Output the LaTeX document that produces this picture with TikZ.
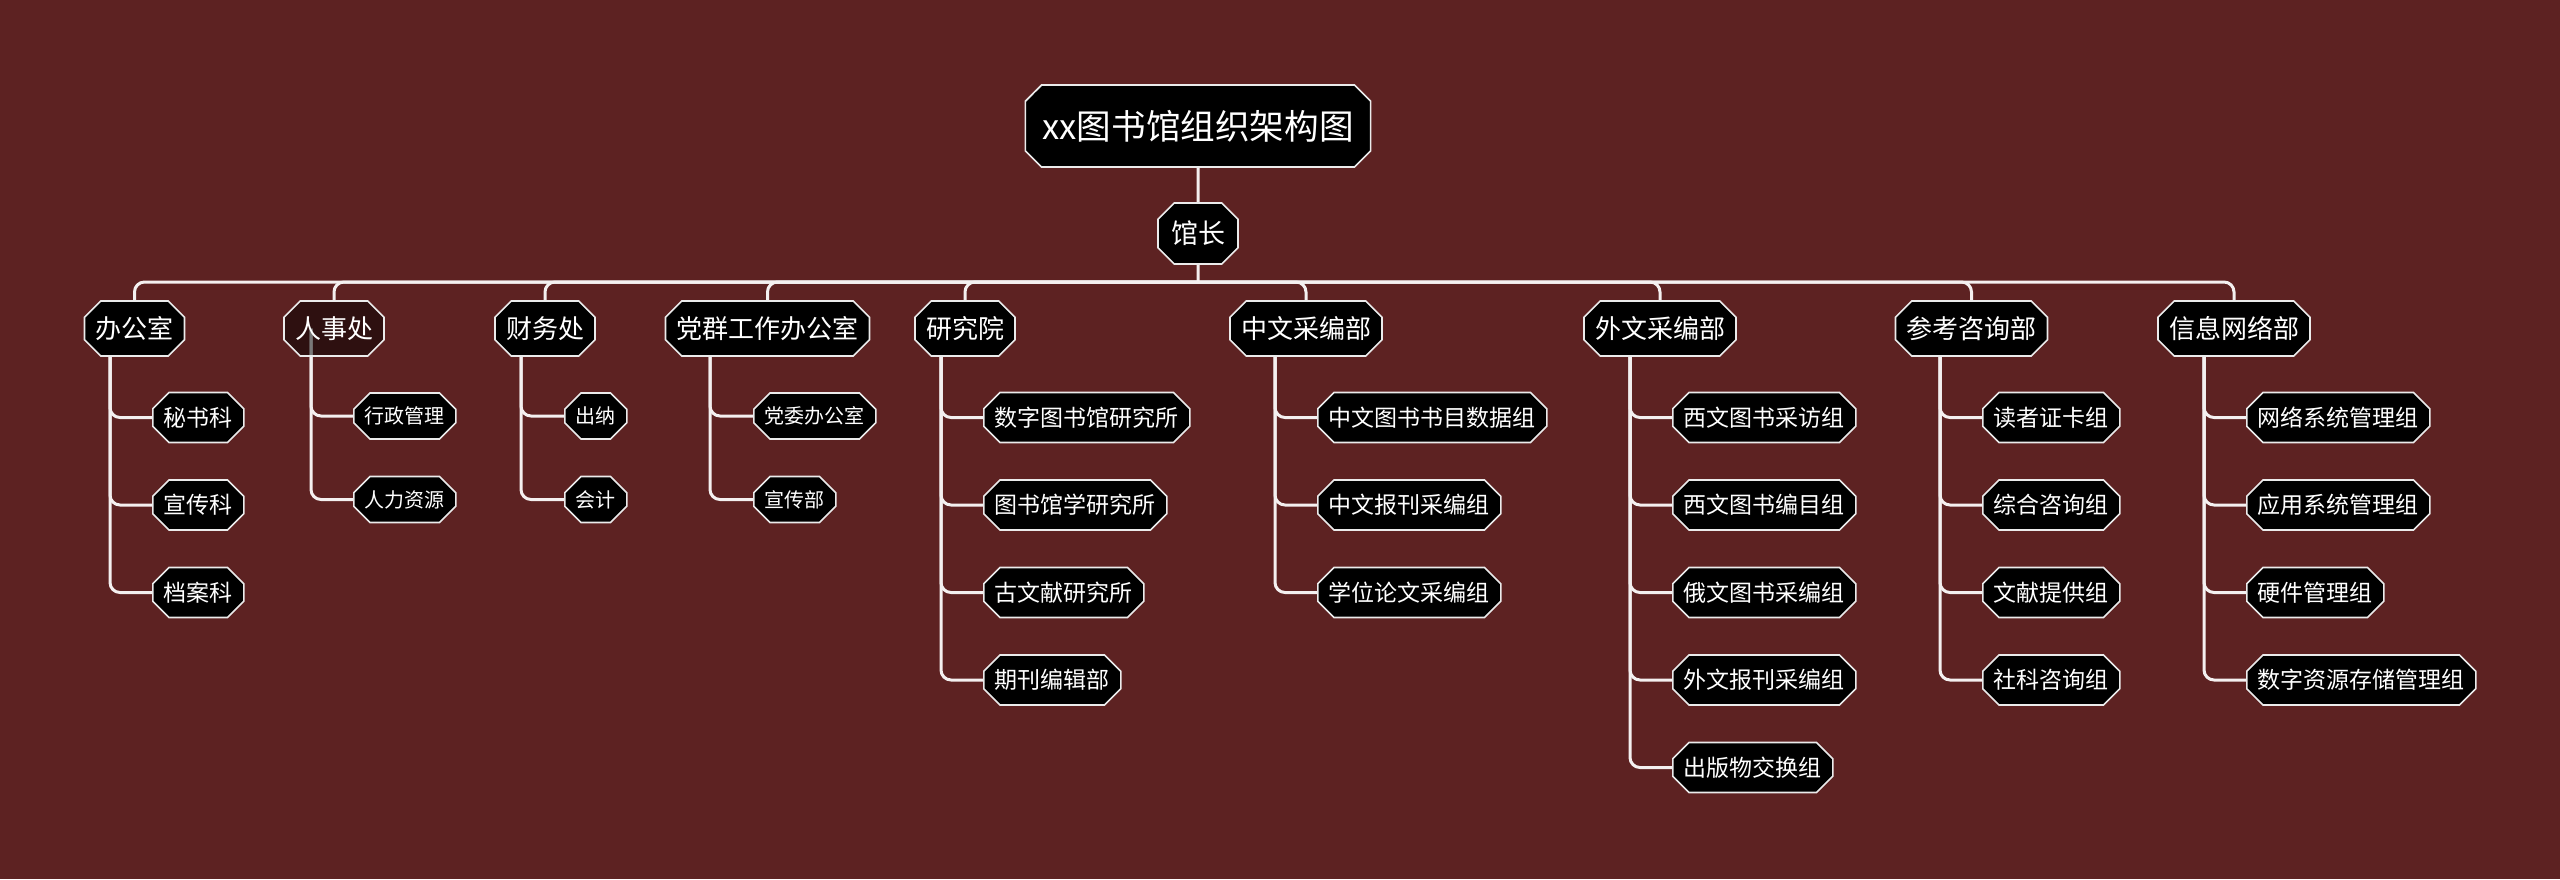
\documentclass[tikz,border=0pt]{standalone}
\usepackage{fontspec}
\setmainfont{Noto Sans CJK SC}
\usetikzlibrary{shapes.misc}
\definecolor{bgred}{HTML}{5D2222}
\definecolor{linkwhite}{HTML}{F4F0F0}
\pgfdeclarelayer{bg}
\pgfsetlayers{bg,main}
\tikzset{
  box/.style={chamfered rectangle,chamfered rectangle xsep=4.5pt,draw=white!92!black,line width=0.8pt,fill=black,text=white,inner xsep=1pt,inner ysep=0pt},
  titlebox/.style={box,font=\fontsize{17.3}{20}\selectfont,minimum height=41pt,inner xsep=4pt},
  headbox/.style={box,font=\fontsize{13.5}{16}\selectfont,minimum height=30.5pt,inner xsep=2pt},
  deptbox/.style={box,font=\fontsize{13}{15}\selectfont,minimum height=27.5pt},
  groupbox/.style={box,font=\fontsize{11.5}{14}\selectfont,minimum height=25pt,anchor=west},
  smallbox/.style={box,font=\fontsize{10}{12}\selectfont,minimum height=23pt,anchor=west},
  link/.style={linkwhite,line width=1.5pt,rounded corners=5pt},
}
\begin{document}
\begin{tikzpicture}[x=0.5pt,y=-0.5pt]
\useasboundingbox (0,0) rectangle (2560,879);
\begin{pgfonlayer}{bg}
\fill[bgred] (0,0) rectangle (2560,879);
\end{pgfonlayer}
% top of the tree
\node[titlebox] (title) at (1198,126) {xx图书馆组织架构图};
\node[headbox] (head) at (1198,233.5) {馆长};
\coordinate (bar) at (1198,282);
% departments
\node[deptbox] (office) at (134.5,328.5) {办公室};
\node[deptbox,fill opacity=0.5,text opacity=1] (hr) at (334,328.5) {人事处};
\node[deptbox] (finance) at (545,328.5) {财务处};
\node[deptbox] (party) at (767.5,328.5) {党群工作办公室};
\node[deptbox] (research) at (965,328.5) {研究院};
\node[deptbox] (cnacq) at (1306,328.5) {中文采编部};
\node[deptbox] (fgacq) at (1660,328.5) {外文采编部};
\node[deptbox] (refer) at (1971.5,328.5) {参考咨询部};
\node[deptbox] (netw) at (2234,328.5) {信息网络部};
% trunks under the departments
\coordinate (officeT) at (110,328.5);
\coordinate (hrT) at (311,328.5);
\coordinate (financeT) at (521,328.5);
\coordinate (partyT) at (710,328.5);
\coordinate (researchT) at (941,328.5);
\coordinate (cnacqT) at (1275,328.5);
\coordinate (fgacqT) at (1630,328.5);
\coordinate (referT) at (1940,328.5);
\coordinate (netwT) at (2204,328.5);
% groups
\node[groupbox] (office1) at (152,417.5) {秘书科};
\node[groupbox] (office2) at (152,505) {宣传科};
\node[groupbox] (office3) at (152,592.5) {档案科};
\node[smallbox] (hr1) at (353,416) {行政管理};
\node[smallbox] (hr2) at (353,499.5) {人力资源};
\node[smallbox] (finance1) at (564,416) {出纳};
\node[smallbox] (finance2) at (564,499.5) {会计};
\node[smallbox] (party1) at (753,416) {党委办公室};
\node[smallbox] (party2) at (753,499.5) {宣传部};
\node[groupbox] (research1) at (983,417.5) {数字图书馆研究所};
\node[groupbox] (research2) at (983,505) {图书馆学研究所};
\node[groupbox] (research3) at (983,592.5) {古文献研究所};
\node[groupbox] (research4) at (983,680) {期刊编辑部};
\node[groupbox] (cnacq1) at (1317,417.5) {中文图书书目数据组};
\node[groupbox] (cnacq2) at (1317,505) {中文报刊采编组};
\node[groupbox] (cnacq3) at (1317,592.5) {学位论文采编组};
\node[groupbox] (fgacq1) at (1672,417.5) {西文图书采访组};
\node[groupbox] (fgacq2) at (1672,505) {西文图书编目组};
\node[groupbox] (fgacq3) at (1672,592.5) {俄文图书采编组};
\node[groupbox] (fgacq4) at (1672,680) {外文报刊采编组};
\node[groupbox] (fgacq5) at (1672,767.5) {出版物交换组};
\node[groupbox] (refer1) at (1982,417.5) {读者证卡组};
\node[groupbox] (refer2) at (1982,505) {综合咨询组};
\node[groupbox] (refer3) at (1982,592.5) {文献提供组};
\node[groupbox] (refer4) at (1982,680) {社科咨询组};
\node[groupbox] (netw1) at (2246,417.5) {网络系统管理组};
\node[groupbox] (netw2) at (2246,505) {应用系统管理组};
\node[groupbox] (netw3) at (2246,592.5) {硬件管理组};
\node[groupbox] (netw4) at (2246,680) {数字资源存储管理组};
\begin{pgfonlayer}{bg}
\draw[link] (title) -- (head) -- (bar);
\draw[link] (bar) -| (office.north);
\draw[link] (bar) -| (hr.north);
\draw[link] (bar) -| (finance.north);
\draw[link] (bar) -| (party.north);
\draw[link] (bar) -| (research.north);
\draw[link] (bar) -| (cnacq.north);
\draw[link] (bar) -| (fgacq.north);
\draw[link] (bar) -| (refer.north);
\draw[link] (bar) -| (netw.north);
\draw[link] (officeT) |- (office1.west);
\draw[link] (officeT) |- (office2.west);
\draw[link] (officeT) |- (office3.west);
\draw[link] (hrT) |- (hr1.west);
\draw[link] (hrT) |- (hr2.west);
\draw[link] (financeT) |- (finance1.west);
\draw[link] (financeT) |- (finance2.west);
\draw[link] (partyT) |- (party1.west);
\draw[link] (partyT) |- (party2.west);
\draw[link] (researchT) |- (research1.west);
\draw[link] (researchT) |- (research2.west);
\draw[link] (researchT) |- (research3.west);
\draw[link] (researchT) |- (research4.west);
\draw[link] (cnacqT) |- (cnacq1.west);
\draw[link] (cnacqT) |- (cnacq2.west);
\draw[link] (cnacqT) |- (cnacq3.west);
\draw[link] (fgacqT) |- (fgacq1.west);
\draw[link] (fgacqT) |- (fgacq2.west);
\draw[link] (fgacqT) |- (fgacq3.west);
\draw[link] (fgacqT) |- (fgacq4.west);
\draw[link] (fgacqT) |- (fgacq5.west);
\draw[link] (referT) |- (refer1.west);
\draw[link] (referT) |- (refer2.west);
\draw[link] (referT) |- (refer3.west);
\draw[link] (referT) |- (refer4.west);
\draw[link] (netwT) |- (netw1.west);
\draw[link] (netwT) |- (netw2.west);
\draw[link] (netwT) |- (netw3.west);
\draw[link] (netwT) |- (netw4.west);
\end{pgfonlayer}
\end{tikzpicture}
\end{document}
